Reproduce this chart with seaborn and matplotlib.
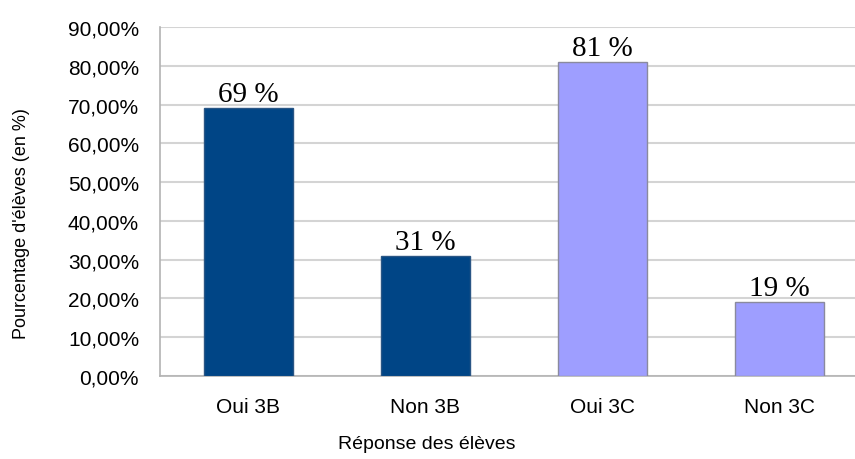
import pandas as pd
import seaborn as sns
import matplotlib.pyplot as plt
from matplotlib.ticker import FuncFormatter, FixedLocator

# ========= Data =========
categories = ["Oui 3B", "Non 3B", "Oui 3C", "Non 3C"]
values = [69, 31, 81, 19]
bar_colors = ["#004586", "#004586", "#9e9eff", "#9e9eff"]
y_ticks = [0, 10, 20, 30, 40, 50, 60, 70, 80, 90]

df = pd.DataFrame({"reponse": categories, "pct": values})

# ========= Plot =========
sns.set_theme(style="white")
plt.rcParams["font.family"] = ["Liberation Sans", "DejaVu Sans"]

fig = plt.figure(figsize=(8.55, 4.6), dpi=100)
ax = fig.add_axes([0.187, 0.1804, 0.828, 0.7586])

sns.barplot(data=df, x="reponse", y="pct", hue="reponse", palette=bar_colors,
            saturation=1, legend=False, width=0.5, ax=ax, zorder=3)

for patch, col in zip(ax.patches, bar_colors):
    patch.set_edgecolor("#8a8a9e" if col != "#004586" else "#2a5685")
    patch.set_linewidth(1.0)

for i, v in enumerate(values):
    ax.text(i, v + 0.3, f"{v} %", ha="center", va="bottom",
            fontsize=21, family="Liberation Serif", color="black", zorder=4)

ax.set_xlim(-0.5, 3.5)
ax.set_ylim(0, 90)
ax.set_yticks(y_ticks)
ax.yaxis.set_major_formatter(FuncFormatter(lambda v, p: f"{v:.2f}%".replace(".", ",")))
ax.yaxis.grid(True, color="#d4d4d4", linewidth=1.5, zorder=0)
ax.set_axisbelow(True)

# category separators on the x axis
ax.xaxis.set_minor_locator(FixedLocator([-0.5, 0.5, 1.5, 2.5, 3.5]))
ax.tick_params(axis="x", which="major", length=0, pad=15, labelsize=15)
ax.tick_params(axis="x", which="minor", length=8, width=1, color="#b3b3b3", direction="out")
ax.tick_params(axis="y", which="major", length=8, width=1, color="#b3b3b3",
               direction="out", labelsize=15, pad=7)
ax.tick_params(colors="#b3b3b3", which="both")
for lbl in ax.get_xticklabels() + ax.get_yticklabels():
    lbl.set_color("black")

for side in ["top", "right"]:
    ax.spines[side].set_visible(False)
for side in ["left", "bottom"]:
    ax.spines[side].set_color("#b3b3b3")
    ax.spines[side].set_linewidth(1.2)

ax.set_xlabel("Réponse des élèves", fontsize=14, color="black")
ax.set_ylabel("Pourcentage d'élèves (en %)", fontsize=13, color="black")
ax.xaxis.set_label_coords(0.377, -0.17)
ax.yaxis.set_label_coords(-0.183, 0.44)

fig.savefig("out.png", dpi=100)
